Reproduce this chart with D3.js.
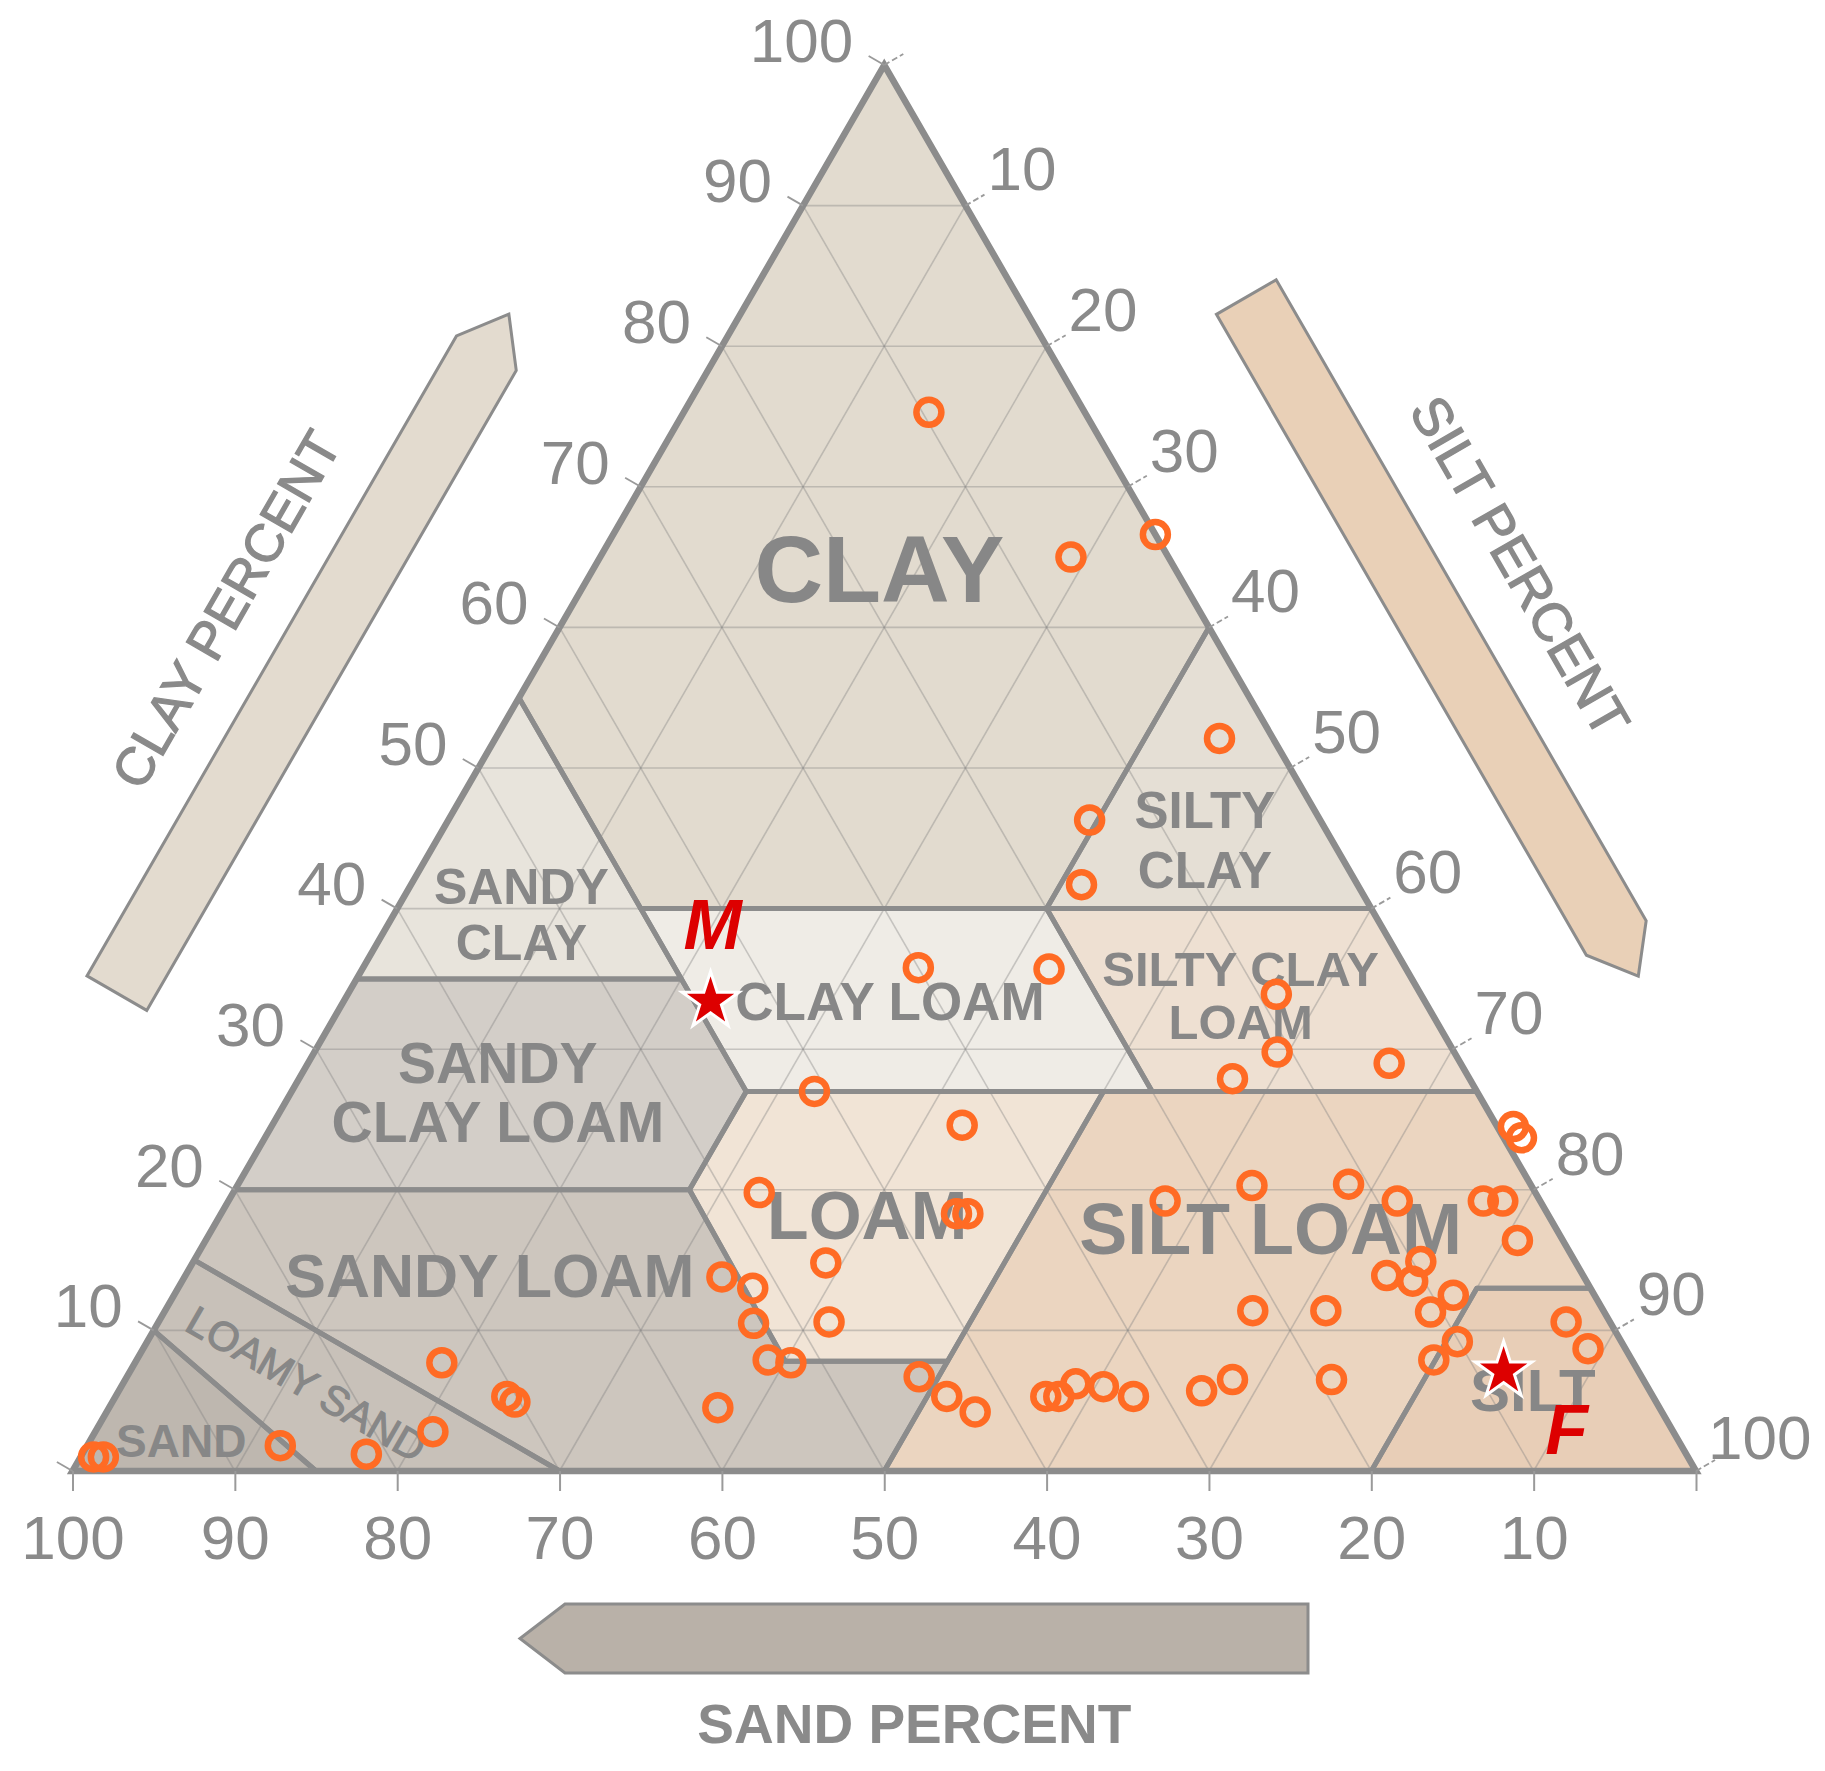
<!DOCTYPE html>
<html><head><meta charset="utf-8">
<script src="https://cdn.jsdelivr.net/npm/d3@7"></script>
<style>
body{margin:0;background:#fff}
svg{display:block}
text{font-family:"Liberation Sans",Arial,Helvetica,sans-serif}
</style>
</head><body>
<svg id="chart" width="1825" height="1771"></svg>
<script>
// ---------------- DATA ----------------
// Sample points: sand / silt / clay percentages
const sandPct = [9.6,0.0,6.0,3.3,14.2,17.0,30.0,22.0,8.9,10.9,14.6,4.4,-1.0,-1.1,40.8,32.9,47.8,23.1,17.2,11.2,8.8,3.5,2.3,36.4,35.7,2.8,46.2,53.1,51.6,9.5,12.1,10.7,8.7,21.6,17.1,10.7,2.7,52.8,48.1,2.3,10.1,12.2,53.2,51.9,73.4,44.5,43.5,42.3,37.4,36.6,35.1,33.5,32.0,27.6,25.3,19.2,70.6,70.3,58.0,76.4,86.3,81.3,98.2,97.6];
const siltPct = [15.1,33.4,29.0,44.6,39.5,41.3,34.2,42.3,57.2,59.3,57.5,66.6,76.5,77.4,32.2,42.5,32.4,57.7,62.5,68.4,72.0,77.3,78.5,45.3,46.0,80.8,39.0,33.1,35.4,75.6,74.0,75.8,78.8,67.0,71.5,78.0,86.7,36.7,41.3,89.0,80.7,79.9,38.9,40.4,18.9,48.8,51.2,53.5,57.3,58.1,58.7,60.5,62.7,66.7,68.2,74.3,24.1,24.8,37.5,20.8,11.9,17.5,0.8,1.4];
const clayPct = [75.3,66.6,65.0,52.1,46.3,41.7,35.8,35.7,33.9,29.8,27.9,29.0,24.5,23.7,27.0,24.6,19.8,19.2,20.3,20.4,19.2,19.2,19.2,18.3,18.3,16.4,14.8,13.8,13.0,14.9,13.9,13.5,12.5,11.4,11.4,11.3,10.6,10.5,10.6,8.7,9.2,7.9,7.9,7.7,7.7,6.7,5.3,4.2,5.3,5.3,6.2,6.0,5.3,5.7,6.5,6.5,5.3,4.9,4.5,2.8,1.8,1.2,1.0,1.0];

// Highlighted samples (stars)
const starNames = ["M","F"];
const starSand = [44.0, 8.3];
const starSilt = [22.6, 84.6];
const starClay = [33.4, 7.1];

// Axis ticks
const tickValues = [0,10,20,30,40,50,60,70,80,90,100];
const tickLabels = ["","10","20","30","40","50","60","70","80","90","100"];
const gridValues = [10,20,30,40,50,60,70,80,90];

// Texture classes: vertices as [sand, silt, clay]
const regionNames = ["CLAY","SILTY CLAY","SANDY CLAY","CLAY LOAM","SILTY CLAY LOAM","SANDY CLAY LOAM","LOAM","SILT LOAM","SILT","SANDY LOAM","LOAMY SAND","SAND"];
const regionVertices = [
  [[0,0,100],[0,40,60],[20,40,40],[45,15,40],[45,0,55]],
  [[0,40,60],[0,60,40],[20,40,40]],
  [[45,0,55],[45,15,40],[45,20,35],[65,0,35]],
  [[45,15,40],[20,40,40],[20,53,27],[45,28,27]],
  [[20,40,40],[0,60,40],[0,73,27],[20,53,27]],
  [[65,0,35],[45,20,35],[45,28,27],[52,28,20],[80,0,20]],
  [[45,28,27],[23,50,27],[42.2,50,7.8],[52.2,40,7.8],[52,28,20]],
  [[23,50,27],[0,73,27],[0,87,13],[7,80,13],[20,80,0],[50,50,0],[42.2,50,7.8]],
  [[7,80,13],[0,87,13],[0,100,0],[20,80,0]],
  [[80,0,20],[52,28,20],[52.2,40,7.8],[42.2,50,7.8],[50,50,0],[70,30,0],[85,0,15]],
  [[85,0,15],[70,30,0],[85,15,0],[90,0,10]],
  [[90,0,10],[85,15,0],[100,0,0]]
];
// Label lines and anchor (sand, silt, clay) for each class
const regionLabelLines = [["CLAY"],["SILTY","CLAY"],["SANDY","CLAY"],["CLAY LOAM"],["SILTY CLAY","LOAM"],["SANDY","CLAY LOAM"],["LOAM"],["SILT LOAM"],["SILT"],["SANDY LOAM"],["LOAMY SAND"],["SAND"]];
const regionLabelAnchor = [[19.4,18.8,61.8],[7.4,46.9,45.7],[52.2,7.5,40.3],[33.6,34.3,32.1],[10.8,54.7,34.5],[60.0,12.4,27.6],[42.8,40.7,16.5],[18.5,66.1,15.4],[7.9,87.8,4.3],[68.1,19.5,12.4],[82.5,11.3,6.2],[92.8,6.2,1.0]];

// ---------------- STYLES ----------------
const regionFill = {
  "CLAY":"#e2dbcf","SILTY CLAY":"#e5dfd5","SANDY CLAY":"#e8e4dc","CLAY LOAM":"#efece6",
  "SILTY CLAY LOAM":"#eee0d2","SANDY CLAY LOAM":"#d3cec8","LOAM":"#f1e4d6","SILT LOAM":"#ebd5c0",
  "SILT":"#e8ceb7","SANDY LOAM":"#cdc6be","LOAMY SAND":"#c8c1b9","SAND":"#beb7af"
};
const labelStyle = {
  "CLAY":{size:95,lh:0,w:"bold"},"SILTY CLAY":{size:51,lh:60,w:"bold"},"SANDY CLAY":{size:50,lh:56,w:"bold"},
  "CLAY LOAM":{size:53,lh:0,w:"bold"},"SILTY CLAY LOAM":{size:49,lh:53,w:"bold"},"SANDY CLAY LOAM":{size:57,lh:59,w:"bold"},
  "LOAM":{size:68,lh:0,w:"bold"},"SILT LOAM":{size:72,lh:0,w:"bold"},"SILT":{size:60,lh:0,w:"bold"},
  "SANDY LOAM":{size:61,lh:0,w:"bold"},"LOAMY SAND":{size:41,lh:0,w:"normal",rot:30,central:true},"SAND":{size:46,lh:0,w:"bold"}
};
const GRAY = "#8a8a8a", LINE = "#8c8c8c", ORANGE = "#ff6b24", RED = "#dd0000";

// ---------------- GEOMETRY ----------------
const svg = d3.select("#chart");
const BLX = 72.5, BRX = 1696, BASEY = 1471;
const SIDE = BRX - BLX, TRI_H = SIDE * Math.sqrt(3) / 2;
const xS = d3.scaleLinear().domain([0,100]).range([BLX, BRX]);          // silt + clay/2
const yS = d3.scaleLinear().domain([0,100]).range([BASEY, BASEY - TRI_H]); // clay
const proj = (sand, silt, clay) => [xS(silt + clay / 2), yS(clay)];
const line = d3.line();

// ---------------- ARROWS ----------------
function arrowPts(o, u, n, s0, s1, tip, n0, n1) {
  const P = (s, k) => [o[0] + s*u[0] + k*n[0], o[1] + s*u[1] + k*n[1]];
  return [P(s0,n0), P(s1,n0), P(tip,(n0+n1)/2), P(s1,n1), P(s0,n1)];
}
const c30 = Math.sqrt(3)/2;
const apex = proj(0,0,100), bl = proj(100,0,0), br = proj(0,100,0);
const arrows = [
  {pts: arrowPts(bl, [0.5,-c30], [-c30,-0.5], 436, 1175, 1220, 166, 235), fill:"#e3dbcf"},
  {pts: arrowPts(apex, [0.5,c30], [c30,-0.5], 382, 1122, 1166, 163, 232), fill:"#e9d0b7"},
  {pts: arrowPts(br, [-1,0], [0,1], 388, 1131, 1176, 133, 202), fill:"#b9b1a8"}
];
svg.append("g").selectAll("path").data(arrows).join("path")
  .attr("d", d => line(d.pts) + "Z")
  .attr("fill", d => d.fill).attr("stroke", LINE).attr("stroke-width", 3).attr("stroke-linejoin","miter");

// Axis titles
function titleAt(o, u, n, s, k) { return [o[0] + s*u[0] + k*n[0], o[1] + s*u[1] + k*n[1]]; }
const tClay = titleAt(bl, [0.5,-c30], [-c30,-0.5], 823, 298);
const tSilt = titleAt(apex, [0.5,c30], [c30,-0.5], 752, 300);
svg.append("text").text("CLAY PERCENT")
  .attr("transform", `translate(${tClay[0]},${tClay[1]}) rotate(-60)`)
  .attr("text-anchor","middle").attr("dy","0.35em")
  .attr("font-size",53).attr("fill",GRAY).attr("stroke",GRAY).attr("stroke-width",1.3);
svg.append("text").text("SILT PERCENT")
  .attr("transform", `translate(${tSilt[0]},${tSilt[1]}) rotate(60)`)
  .attr("text-anchor","middle").attr("dy","0.35em")
  .attr("font-size",54).attr("fill",GRAY).attr("stroke",GRAY).attr("stroke-width",1.3);
svg.append("text").text("SAND PERCENT")
  .attr("x", xS(51.85)).attr("y", BASEY + 272)
  .attr("text-anchor","middle").attr("font-size",55).attr("font-weight","bold").attr("fill",GRAY);

// ---------------- REGIONS ----------------
const regions = regionNames.map((name, i) => ({name, pts: regionVertices[i].map(v => proj(...v))}));
svg.append("g").selectAll("path").data(regions).join("path")
  .attr("d", d => line(d.pts) + "Z")
  .attr("fill", d => regionFill[d.name]).attr("stroke","none");

// Grid
const gridLines = [];
gridValues.forEach(v => {
  gridLines.push([proj(100-v,0,v), proj(0,100-v,v)]);
  gridLines.push([proj(v,100-v,0), proj(v,0,100-v)]);
  gridLines.push([proj(100-v,v,0), proj(0,v,100-v)]);
});
svg.append("g").selectAll("path").data(gridLines).join("path")
  .attr("d", d => line(d)).attr("stroke","rgba(130,130,130,0.38)").attr("stroke-width",1.6).attr("fill","none");

// Region boundaries
svg.append("g").selectAll("path").data(regions).join("path")
  .attr("d", d => line(d.pts) + "Z")
  .attr("fill","none").attr("stroke",LINE).attr("stroke-width",5).attr("stroke-linejoin","round");

// Outer triangle
svg.append("path").attr("d", line([apex, bl, br]) + "Z")
  .attr("fill","none").attr("stroke",LINE).attr("stroke-width",6.5).attr("stroke-linejoin","miter");

// ---------------- AXES ----------------
// Bottom (sand) axis
const sandScale = d3.scaleLinear().domain([100,0]).range([BLX, BRX]);
const bottomAxis = d3.axisBottom(sandScale).tickValues(tickValues).tickSize(20).tickPadding(24)
  .tickFormat(d => tickLabels[tickValues.indexOf(d)]);
const gB = svg.append("g").attr("transform", `translate(0,${BASEY})`).call(bottomAxis);
gB.select(".domain").remove();
gB.selectAll(".tick line").attr("stroke","#9a9a9a").attr("stroke-width",2);
gB.selectAll(".tick text").attr("font-size",62).attr("fill",GRAY)
  .attr("font-family",'"Liberation Sans",Arial,sans-serif');

// Left (clay) axis
const gL = svg.append("g");
tickValues.forEach((v, i) => {
  const p = proj(100 - v, 0, v);
  gL.append("line").attr("x1",p[0]).attr("y1",p[1])
    .attr("x2",p[0] - 18*c30).attr("y2",p[1] - 18*0.5)
    .attr("stroke","#9a9a9a").attr("stroke-width",1.8);
  if (tickLabels[i]) gL.append("text").text(tickLabels[i])
    .attr("x", p[0] - 31).attr("y", p[1] - 25).attr("dy","0.35em")
    .attr("text-anchor","end").attr("font-size",62).attr("fill",GRAY);
});
// Right (silt) axis
const gR = svg.append("g");
tickValues.forEach((v, i) => {
  const p = proj(0, v, 100 - v);
  gR.append("line").attr("x1",p[0]).attr("y1",p[1])
    .attr("x2",p[0] + 22*c30).attr("y2",p[1] - 22*0.5)
    .attr("stroke","#9a9a9a").attr("stroke-width",1.8).attr("stroke-dasharray","6,3");
  const last = i === tickValues.length - 1;
  if (tickLabels[i]) gR.append("text").text(tickLabels[i])
    .attr("x", p[0] + (last ? 12 : 22)).attr("y", p[1] - (last ? 34 : 37)).attr("dy","0.35em")
    .attr("text-anchor","start").attr("font-size",62).attr("fill",GRAY);
});

// ---------------- REGION LABELS ----------------
const gT = svg.append("g");
regionNames.forEach((name, i) => {
  const st = labelStyle[name];
  const a = proj(...regionLabelAnchor[i]);
  const lines = regionLabelLines[i];
  const t = gT.append("text")
    .attr("transform", `translate(${a[0]},${a[1]})` + (st.rot ? ` rotate(${st.rot})` : ""))
    .attr("text-anchor","middle").attr("font-size",st.size).attr("font-weight",st.w).attr("fill","#878787");
  if (st.w === "normal") t.attr("stroke","#878787").attr("stroke-width",1.2);
  lines.forEach((ln, j) => {
    t.append("tspan").attr("x",0).attr("y", j * st.lh).attr("dy", st.central ? "0.35em" : null).text(ln);
  });
});

// ---------------- POINTS ----------------
const points = sandPct.map((s, i) => ({sand:s, silt:siltPct[i], clay:clayPct[i]}));
svg.append("g").selectAll("circle").data(points).join("circle")
  .attr("cx", d => xS(d.silt + d.clay/2)).attr("cy", d => yS(d.clay))
  .attr("r", 12.5).attr("fill","none").attr("stroke",ORANGE).attr("stroke-width",6.5);

// Stars
const stars = starNames.map((n, i) => ({name:n, sand:starSand[i], silt:starSilt[i], clay:starClay[i]}));
const starOffsets = {M:[2,-52], F:[63,83]};
const gS = svg.append("g");
gS.selectAll("path").data(stars).join("path")
  .attr("d", d3.symbol().type(d3.symbolStar).size(1000))
  .attr("transform", d => `translate(${xS(d.silt + d.clay/2)},${yS(d.clay)})`)
  .attr("fill",RED).attr("stroke","#fff").attr("stroke-width",3);
gS.selectAll("text").data(stars).join("text")
  .text(d => d.name)
  .attr("x", d => xS(d.silt + d.clay/2) + starOffsets[d.name][0])
  .attr("y", d => yS(d.clay) + starOffsets[d.name][1])
  .attr("text-anchor","middle").attr("font-size",70).attr("font-weight","bold").attr("font-style","italic")
  .attr("fill",RED);
</script>
</body></html>
